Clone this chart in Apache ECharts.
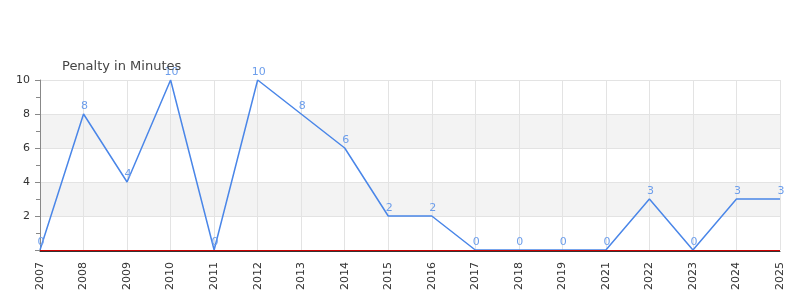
<!DOCTYPE html>
<html><head><meta charset="utf-8">
<script src="https://cdn.jsdelivr.net/npm/echarts@6/dist/echarts.min.js"></script>
<style>html,body{margin:0;padding:0;background:#fff}#c{width:800px;height:300px}</style>
</head><body><div id="c"></div>
<script>
const years = ['2007','2008','2009','2010','2011','2012','2013','2014','2015','2016','2017','2018','2019','2021','2022','2023','2024','2025'];
const penalty = [0,8,4,10,0,10,8,6,2,2,0,0,0,0,3,0,3,3];
const yTicks = [2,4,6,8,10];

const chart = echarts.init(document.getElementById('c'), null, {renderer:'canvas'});
chart.setOption({
  animation:false,
  backgroundColor:'#fff',
  title:{text:'Penalty in Minutes', left:57, top:55, textStyle:{fontFamily:'DejaVu Sans', fontSize:13, fontWeight:'normal', color:'#444'}},
  grid:{left:40, right:20, top:80, bottom:50, containLabel:false},
  xAxis:{type:'category', data:years, boundaryGap:false, offset:1,
    axisLine:{onZero:false, lineStyle:{color:'#333', width:1}},
    axisTick:{show:false},
    axisLabel:{rotate:90, fontFamily:'DejaVu Sans', fontSize:11, color:'#333', margin:11},
    splitLine:{show:true, lineStyle:{color:'#e3e3e3', width:1}}
  },
  yAxis:{type:'value', min:0, max:10, interval:2,
    axisLine:{show:true, lineStyle:{color:'#888'}},
    axisTick:{show:true, length:5, lineStyle:{color:'#888'}},
    minorTick:{show:true, splitNumber:2, length:4, lineStyle:{color:'#888'}},
    axisLabel:{fontFamily:'DejaVu Sans', fontSize:11, color:'#333', margin:10,
      formatter:v => yTicks.includes(v) ? String(v) : ''},
    splitLine:{show:true, lineStyle:{color:'#e3e3e3'}},
    splitArea:{show:true, areaStyle:{color:['#ffffff','#f3f3f3']}}
  },
  series:[{
    type:'line', data:penalty, symbol:'circle', symbolSize:0, showSymbol:true,
    lineStyle:{color:'#4a86e8', width:1.5},
    itemStyle:{color:'#4a86e8'},
    label:{show:true, position:'top', distance:2, offset:[1,0], color:'#6d9eeb', fontFamily:'DejaVu Sans', fontSize:11},
    markLine:{silent:true, symbol:'none', label:{show:false},
      lineStyle:{color:'#cc0000', type:'solid', width:1}, data:[{yAxis:0}]}
  }]
});
</script></body></html>
